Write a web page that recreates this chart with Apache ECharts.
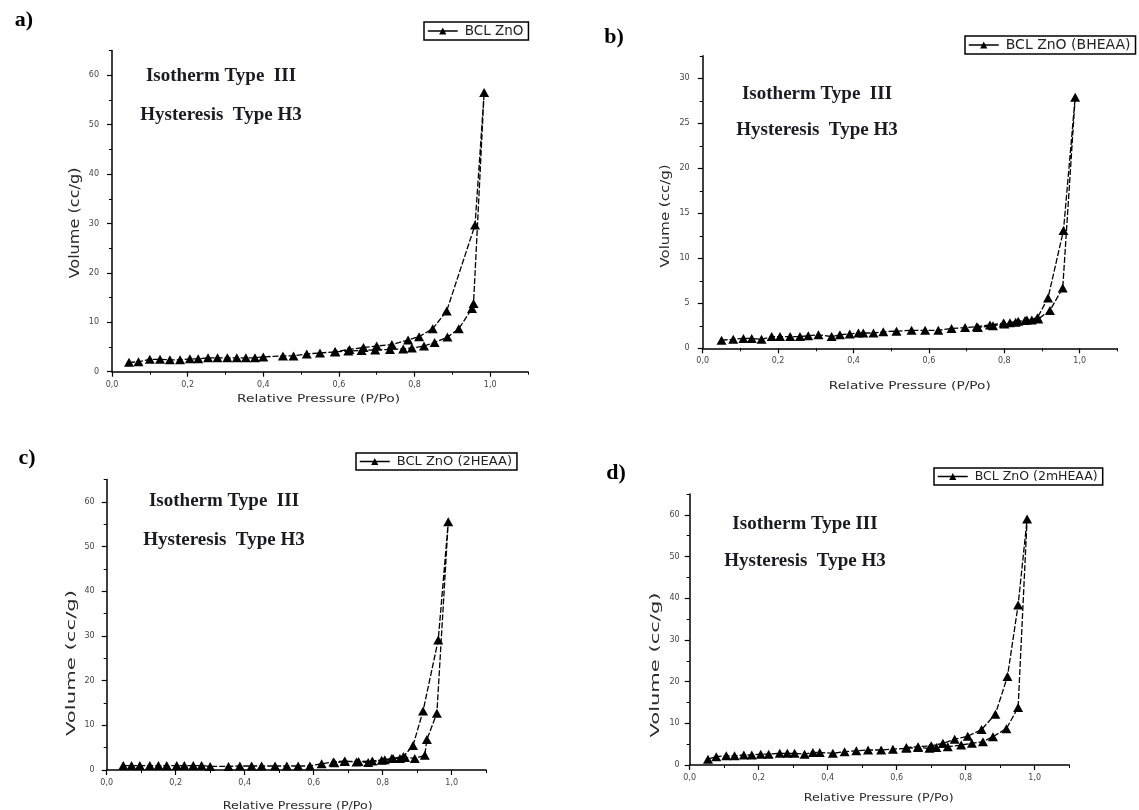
<!DOCTYPE html>
<html>
<head>
<meta charset="utf-8">
<script src="https://cdn.jsdelivr.net/npm/echarts@6/dist/echarts.min.js"></script>
<style>
html,body{margin:0;padding:0;background:#fff;}
#chart{width:1139px;height:810px;}
</style>
</head>
<body>
<div id="chart"></div>
<script>
// ---------------- DATA ----------------
// Panel a) BCL ZnO
const aAdsX = [0.045,0.07,0.10,0.127,0.153,0.18,0.206,0.228,0.254,0.279,0.305,0.33,0.354,0.378,0.40,0.452,0.48,0.515,0.55,0.59,0.625,0.66,0.696,0.735,0.77,0.793,0.825,0.853,0.887,0.917,0.952,0.956,0.984];
const aAdsY = [1.9,2.0,2.5,2.5,2.4,2.4,2.6,2.6,2.8,2.8,2.8,2.8,2.8,2.8,3.0,3.2,3.2,3.6,3.8,4.0,4.2,4.3,4.4,4.5,4.6,4.8,5.2,5.9,7.0,8.7,12.8,13.8,56.5];
const aDesX = [0.96,0.885,0.848,0.812,0.783,0.74,0.70,0.665,0.628,0.59];
const aDesY = [29.7,12.3,8.7,7.1,6.4,5.5,5.2,4.9,4.5,4.1];

// Panel b) BCL ZnO (BHEAA)
const bAdsX = [0.05,0.081,0.108,0.13,0.156,0.183,0.205,0.232,0.258,0.28,0.307,0.342,0.364,0.39,0.413,0.426,0.453,0.479,0.514,0.554,0.59,0.625,0.66,0.696,0.727,0.762,0.798,0.815,0.837,0.855,0.873,0.89,0.921,0.955,0.988];
const bAdsY = [0.9,1.0,1.1,1.1,1.0,1.3,1.3,1.3,1.3,1.4,1.5,1.3,1.5,1.6,1.7,1.7,1.7,1.85,1.9,2.0,2.0,2.0,2.2,2.3,2.4,2.6,2.8,2.85,3.0,3.1,3.15,3.25,4.2,6.7,27.9];
const bDesX = [0.957,0.916,0.888,0.86,0.83,0.80,0.77,0.73];
const bDesY = [13.1,5.6,3.4,3.15,2.9,2.7,2.5,2.3];

// Panel c) BCL ZnO (2HEAA)
const cAdsX = [0.048,0.072,0.096,0.125,0.15,0.174,0.203,0.225,0.251,0.275,0.30,0.353,0.386,0.42,0.449,0.488,0.522,0.555,0.589,0.623,0.657,0.69,0.724,0.758,0.797,0.826,0.85,0.865,0.893,0.922,0.928,0.957,0.99];
const cAdsY = [1.0,1.0,1.0,1.0,1.0,1.0,1.0,1.0,1.0,1.0,0.8,0.8,0.9,0.9,0.9,0.9,0.9,0.9,0.9,1.4,1.8,2.0,1.8,1.7,2.2,2.6,2.6,2.8,2.6,3.3,6.8,12.7,55.5];
const cDesX = [0.961,0.917,0.888,0.86,0.83,0.806,0.77,0.73,0.69,0.66];
const cDesY = [29.1,13.2,5.5,3.0,2.6,2.3,2.0,1.9,1.9,1.6];

// Panel d) BCL ZnO (2mHEAA)
const dAdsX = [0.053,0.077,0.106,0.13,0.157,0.18,0.206,0.229,0.261,0.283,0.304,0.333,0.357,0.377,0.415,0.449,0.483,0.517,0.555,0.589,0.628,0.662,0.695,0.715,0.748,0.787,0.818,0.85,0.879,0.918,0.952,0.978];
const dAdsY = [1.4,2.0,2.2,2.2,2.4,2.4,2.6,2.6,2.8,2.8,2.8,2.6,3.0,3.0,2.8,3.2,3.4,3.6,3.6,3.8,4.0,4.2,4.0,4.2,4.4,4.8,5.2,5.6,6.8,8.7,13.8,59.0];
const dDesX = [0.952,0.921,0.886,0.846,0.806,0.768,0.734,0.70,0.662,0.628];
const dDesY = [38.4,21.2,12.2,8.5,6.9,6.2,5.2,4.6,4.4,4.2];

const seriesNames = ['BCL ZnO','BCL ZnO (BHEAA)','BCL ZnO (2HEAA)','BCL ZnO (2mHEAA)'];
const panelLetters = ['a)','b)','c)','d)'];
const xMajorTicks = [0,0.2,0.4,0.6,0.8,1.0];
const xMinorTicks = [0.1,0.3,0.5,0.7,0.9,1.1];
const yMajorA = [0,10,20,30,40,50,60], yMinorA = [5,15,25,35,45,55,65];
const yMajorB = [0,5,10,15,20,25,30], yMinorB = [2.5,7.5,12.5,17.5,22.5,27.5,32.5];
const xTitle = 'Relative Pressure (P/Po)';
const yTitle = 'Volume (cc/g)';
const note1 = ['Isotherm Type  III','Isotherm Type  III','Isotherm Type  III','Isotherm Type III'];
const note2 = 'Hysteresis  Type H3';

// ---------------- LAYOUT ----------------
const panels = [
  {ads:[aAdsX,aAdsY], des:[aDesX,aDesY], grid:{left:112,top:50.6,width:416,height:321.1}, ymax:65, ystep:10, ymaj:yMajorA, ymin:yMinorA,
   letter:[24,20], legend:{left:424,top:22,fs:13.5}, notes:[[221,76],[221,115]],
   ytitle:{x:75.6,y:223,fs:14,len:111}, xtitle:{x:318.5,y:399,fs:11,len:163}, ygap:13},
  {ads:[bAdsX,bAdsY], des:[bDesX,bDesY], grid:{left:702.7,top:55.8,width:414.7,height:292.5}, ymax:32.5, ystep:5, ymaj:yMajorB, ymin:yMinorB,
   letter:[614,37], legend:{left:965,top:36,fs:14}, notes:[[817,94],[817,130]],
   ytitle:{x:665.6,y:216,fs:12,len:103}, xtitle:{x:909.8,y:386,fs:11,len:162}, ygap:13},
  {ads:[cAdsX,cAdsY], des:[cDesX,cDesY], grid:{left:106.7,top:479.4,width:379.5,height:290.6}, ymax:65, ystep:10, ymaj:yMajorA, ymin:yMinorA,
   letter:[27,458], legend:{left:356,top:453,fs:13}, notes:[[224,501],[224,540]],
   ytitle:{x:71.4,y:663,fs:13,len:146}, xtitle:{x:297.7,y:806,fs:11,len:150}, ygap:12},
  {ads:[dAdsX,dAdsY], des:[dDesX,dDesY], grid:{left:689.7,top:494,width:379.5,height:271}, ymax:65, ystep:10, ymaj:yMajorA, ymin:yMinorA,
   letter:[616,473], legend:{left:934,top:468,fs:12.5}, notes:[[805,524],[805,561]],
   ytitle:{x:655.4,y:665,fs:13,len:145}, xtitle:{x:878.8,y:798,fs:11,len:150}, ygap:10}
];

const measureCtx = document.createElement('canvas').getContext('2d');
function textWidth(text, font){ measureCtx.font = font; return measureCtx.measureText(text).width; }

const grids=[], xAxes=[], yAxes=[], series=[], legends=[], graphics=[];
const fmtX = v => (Math.abs(v*5-Math.round(v*5))<1e-6 && v<=1.0001) ? v.toFixed(1).replace('.',',') : '';

panels.forEach((p,i)=>{
  grids.push(Object.assign({}, p.grid));
  const ax = {type:'value', gridIndex:i, min:0, max:1.1, position:'bottom', splitLine:{show:false}};
  xAxes.push(Object.assign({}, ax, {
    interval:0.2,
    axisLine:{show:true, lineStyle:{color:'#000', width:1.5}},
    axisTick:{show:true, length:5, customValues:xMajorTicks, lineStyle:{color:'#000', width:1.2}},
    axisLabel:{show:true, customValues:xMajorTicks, formatter:fmtX, fontSize:8, color:'#444', margin:9, fontFamily:'DejaVu Sans'}
  }));
  xAxes.push(Object.assign({}, ax, {
    interval:0.1,
    axisLine:{show:false},
    axisTick:{show:true, length:3, customValues:xMinorTicks, lineStyle:{color:'#000', width:1}},
    axisLabel:{show:false}
  }));
  const ay = {type:'value', gridIndex:i, min:0, max:p.ymax, position:'left', splitLine:{show:false}};
  const fmtY = v => (p.ymaj.indexOf(v)>=0) ? String(v) : '';
  yAxes.push(Object.assign({}, ay, {
    interval:p.ystep,
    axisLine:{show:true, lineStyle:{color:'#000', width:1.5}},
    axisTick:{show:true, length:5, customValues:p.ymaj, lineStyle:{color:'#000', width:1.2}},
    axisLabel:{show:true, customValues:p.ymaj, formatter:fmtY, fontSize:8, color:'#444', margin:p.ygap, fontFamily:'DejaVu Sans'}
  }));
  yAxes.push(Object.assign({}, ay, {
    interval:p.ystep/2,
    axisLine:{show:false},
    axisTick:{show:true, length:3, customValues:p.ymin, lineStyle:{color:'#000', width:1}},
    axisLabel:{show:false}
  }));
  const data = [];
  p.ads[0].forEach((x,k)=>data.push([x, p.ads[1][k]]));
  p.des[0].forEach((x,k)=>data.push([x, p.des[1][k]]));
  series.push({
    name:seriesNames[i], type:'line', xAxisIndex:2*i, yAxisIndex:2*i, data:data,
    symbol:'triangle', symbolSize:[10,9], showAllSymbol:true,
    lineStyle:{color:'#000', width:1.3, type:[6,2]}, itemStyle:{color:'#000'},
    emphasis:{disabled:true}, animation:false
  });
  legends.push({
    data:[seriesNames[i]], left:p.legend.left, top:p.legend.top, orient:'horizontal',
    borderColor:'#000', borderWidth:1.5, padding:[2,5,2,3], itemGap:4,
    itemWidth:30, itemHeight:9, backgroundColor:'#fff', selectedMode:false,
    lineStyle:{type:'solid', width:1.5, color:'#000'},
    textStyle:{fontSize:p.legend.fs, color:'#222', fontFamily:'DejaVu Sans', padding:[0,0,0,2]}
  });
  graphics.push({type:'text', x:p.letter[0], y:p.letter[1], style:{text:panelLetters[i], font:'bold 22px "Liberation Serif"', fill:'#000', align:'center', verticalAlign:'middle'}});
  graphics.push({type:'text', x:p.notes[0][0], y:p.notes[0][1], style:{text:note1[i], font:'bold 19px "Liberation Serif"', fill:'#1a1a22', align:'center', verticalAlign:'middle'}});
  graphics.push({type:'text', x:p.notes[1][0], y:p.notes[1][1], style:{text:note2, font:'bold 19px "Liberation Serif"', fill:'#1a1a22', align:'center', verticalAlign:'middle'}});
  const yFont = p.ytitle.fs + 'px "DejaVu Sans"';
  const ySx = p.ytitle.len / textWidth(yTitle, yFont);
  graphics.push({type:'text', x:p.ytitle.x, y:p.ytitle.y, rotation:Math.PI/2, scaleX:ySx, scaleY:1,
    style:{text:yTitle, font:yFont, fill:'#2a2a2a', align:'center', verticalAlign:'middle'}});
  const xFont = p.xtitle.fs + 'px "DejaVu Sans"';
  const xSx = p.xtitle.len / textWidth(xTitle, xFont);
  graphics.push({type:'text', x:p.xtitle.x, y:p.xtitle.y, scaleX:xSx, scaleY:1,
    style:{text:xTitle, font:xFont, fill:'#2a2a2a', align:'center', verticalAlign:'middle'}});
});

const chart = echarts.init(document.getElementById('chart'), null, {renderer:'canvas'});
chart.setOption({
  animation:false,
  backgroundColor:'#fff',
  grid:grids, xAxis:xAxes, yAxis:yAxes, series:series, legend:legends, graphic:graphics
});
</script>
</body>
</html>
